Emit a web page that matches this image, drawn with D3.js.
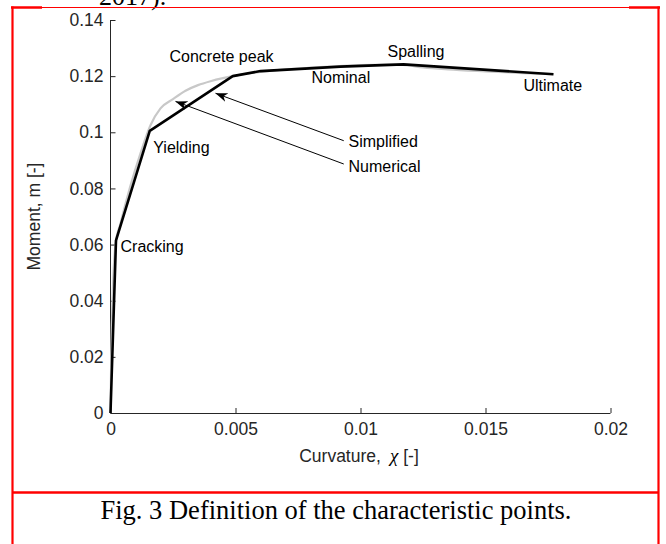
<!DOCTYPE html>
<html>
<head>
<meta charset="utf-8">
<script src="https://cdn.jsdelivr.net/npm/d3@7"></script>
<style>
    body { margin: 0; background: #fff; }
    text { font-family: "Liberation Sans", Arial, Helvetica, sans-serif; fill: #262626; }
    .serif { font-family: "Liberation Serif", "Times New Roman", serif; fill: #000; }
</style>
</head>
<body>
<div id="graphContainer"></div>
<script>
// simplified (multi-linear) moment-curvature law
const simplifiedChi = [0, 0.00022, 0.00157, 0.00489, 0.0060, 0.0092, 0.01172, 0.01772];
const simplifiedM   = [0, 0.0615, 0.1005, 0.1200, 0.1218, 0.1234, 0.1242, 0.1207];

// numerical curve (grey)
const numericalChi = [0, 0.00003, 0.0001, 0.0002, 0.0004, 0.0008, 0.0012, 0.0016, 0.002, 0.0025, 0.003, 0.0035,
    0.004, 0.0045, 0.005, 0.006, 0.007, 0.008, 0.009, 0.010, 0.011, 0.0117, 0.0125, 0.0135, 0.015, 0.0165, 0.0177];
const numericalM = [0, 0.02, 0.045, 0.06, 0.0675, 0.081, 0.0925, 0.1025, 0.1085, 0.1118, 0.1148, 0.1168,
    0.1182, 0.1193, 0.1202, 0.1215, 0.1224, 0.1230, 0.1235, 0.1239, 0.1241, 0.1240, 0.1231, 0.1224, 0.1217, 0.1211, 0.1207];

const xTicks = [0, 0.005, 0.01, 0.015, 0.02];
const yTicks = [0, 0.02, 0.04, 0.06, 0.08, 0.1, 0.12, 0.14];

// point labels: text, chi, m (left edge / baseline)
const pointLabels = [
    {text: 'Cracking', chi: 0.0004, m: 0.0573},
    {text: 'Yielding', chi: 0.00171, m: 0.0927},
    {text: 'Concrete peak', chi: 0.00236, m: 0.1249},
    {text: 'Nominal', chi: 0.00804, m: 0.1176},
    {text: 'Spalling', chi: 0.01108, m: 0.1268},
    {text: 'Ultimate', chi: 0.01652, m: 0.1147},
    {text: 'Simplified', chi: 0.00952, m: 0.0946},
    {text: 'Numerical', chi: 0.00952, m: 0.0860}
];

// arrows from the legend words to the curves
const arrows = [
    {from: [0.00933, 0.0970], to: [0.0042, 0.1139]},
    {from: [0.00933, 0.0887], to: [0.0026, 0.1110]}
];

const width = 666, height = 544;
const svg = d3.select('#graphContainer')
    .append('svg')
    .attr('width', width)
    .attr('height', height);

svg.append('rect').attr('width', width).attr('height', height).attr('fill', '#fff');

// page bits around the figure (cut text + red table frame)
svg.append('text').attr('class', 'serif')
    .attr('x', 99).attr('y', 5)
    .style('font-size', '26px')
    .text('2017).');

const red = '#f00';
svg.append('line').attr('x1', 12).attr('x2', 659).attr('y1', 7.5).attr('y2', 7.5)
    .attr('stroke', red).attr('stroke-width', 1.2);
svg.append('line').attr('x1', 11).attr('x2', 42).attr('y1', 7.5).attr('y2', 7.5)
    .attr('stroke', red).attr('stroke-width', 2.5);
svg.append('line').attr('x1', 629).attr('x2', 660).attr('y1', 7.5).attr('y2', 7.5)
    .attr('stroke', red).attr('stroke-width', 2.5);
svg.append('line').attr('x1', 12.5).attr('x2', 12.5).attr('y1', 6.5).attr('y2', height)
    .attr('stroke', red).attr('stroke-width', 2.2);
svg.append('line').attr('x1', 658.5).attr('x2', 658.5).attr('y1', 6.5).attr('y2', height)
    .attr('stroke', red).attr('stroke-width', 2.2);
svg.append('line').attr('x1', 12).attr('x2', 659).attr('y1', 492.5).attr('y2', 492.5)
    .attr('stroke', red).attr('stroke-width', 2.5);

svg.append('text').attr('class', 'serif')
    .attr('x', 336).attr('y', 519)
    .attr('text-anchor', 'middle')
    .style('font-size', '26.5px')
    .text('Fig. 3 Definition of the characteristic points.');

// scales
const x = d3.scaleLinear().domain([0, 0.02]).range([110.5, 610.5]);
const y = d3.scaleLinear().domain([0, 0.14]).range([413, 20]);

// axes, MATLAB style: ticks pointing inwards, no box
const xAxis = svg.append('g')
    .attr('transform', `translate(0,${y(0)})`)
    .call(d3.axisBottom(x).tickValues(xTicks).tickSize(-5).tickPadding(10).tickFormat(d => String(+d.toFixed(3))));
const yAxis = svg.append('g')
    .attr('transform', `translate(${x(0)},0)`)
    .call(d3.axisLeft(y).tickValues(yTicks).tickSize(-5).tickPadding(7).tickFormat(d => String(+d.toFixed(2))));

[xAxis, yAxis].forEach(g => {
    g.select('.domain').attr('stroke', '#262626').attr('stroke-width', 1);
    g.selectAll('.tick line').attr('stroke', '#262626');
    g.selectAll('.tick text').style('font-size', '17.5px').attr('fill', '#262626');
});
// plain axis lines (no outer ticks)
xAxis.select('.domain').attr('d', `M${x(0)},0.5H${x(0.02)}`);
yAxis.select('.domain').attr('d', `M0,${y(0)}V${y(0.14)}`);
xAxis.selectAll('.tick text').attr('dy', '0.68em');

// axis titles
const xTitle = svg.append('text')
    .attr('x', 359).attr('y', 462)
    .attr('text-anchor', 'middle')
    .style('font-size', '17.5px');
xTitle.append('tspan').text('Curvature,');
xTitle.append('tspan').attr('dx', 9).attr('class', 'serif').style('font-style', 'italic').style('font-size', '19px').attr('fill', '#262626').text('χ');
xTitle.append('tspan').attr('dx', 5).text('[-]');

svg.append('text')
    .attr('transform', `translate(40,${(y(0) + y(0.14)) / 2}) rotate(-90)`)
    .attr('text-anchor', 'middle')
    .style('font-size', '17.5px')
    .text('Moment, m [-]');

// curves
const numerical = numericalChi.map((c, i) => [c, numericalM[i]]);
const simplified = simplifiedChi.map((c, i) => [c, simplifiedM[i]]);

const smoothLine = d3.line().x(d => x(d[0])).y(d => y(d[1])).curve(d3.curveMonotoneX);
const straightLine = d3.line().x(d => x(d[0])).y(d => y(d[1]));

svg.append('path')
    .attr('d', smoothLine(numerical))
    .attr('fill', 'none')
    .attr('stroke', '#c8c8c8')
    .attr('stroke-width', 2.2);

svg.append('path')
    .attr('d', straightLine(simplified))
    .attr('fill', 'none')
    .attr('stroke', '#000')
    .attr('stroke-width', 2.6)
    .attr('stroke-linejoin', 'round');

// arrowhead
svg.append('defs').append('marker')
    .attr('id', 'arrowhead')
    .attr('viewBox', '0 -5 12 10')
    .attr('refX', 12)
    .attr('refY', 0)
    .attr('markerUnits', 'userSpaceOnUse')
    .attr('markerWidth', 12)
    .attr('markerHeight', 10)
    .attr('orient', 'auto')
    .append('path')
    .attr('d', 'M12,0 L0,-4.5 L3.5,0 L0,4.5 Z')
    .attr('fill', '#000');

svg.selectAll('.arrow')
    .data(arrows)
    .enter()
    .append('line')
    .attr('class', 'arrow')
    .attr('x1', d => x(d.from[0]))
    .attr('y1', d => y(d.from[1]))
    .attr('x2', d => x(d.to[0]))
    .attr('y2', d => y(d.to[1]))
    .attr('stroke', '#000')
    .attr('stroke-width', 1)
    .attr('marker-end', 'url(#arrowhead)');

svg.selectAll('.plabel')
    .data(pointLabels)
    .enter()
    .append('text')
    .attr('class', 'plabel')
    .attr('x', d => x(d.chi))
    .attr('y', d => y(d.m))
    .style('font-size', '16px')
    .style('fill', '#000')
    .text(d => d.text);
</script>
</body>
</html>
